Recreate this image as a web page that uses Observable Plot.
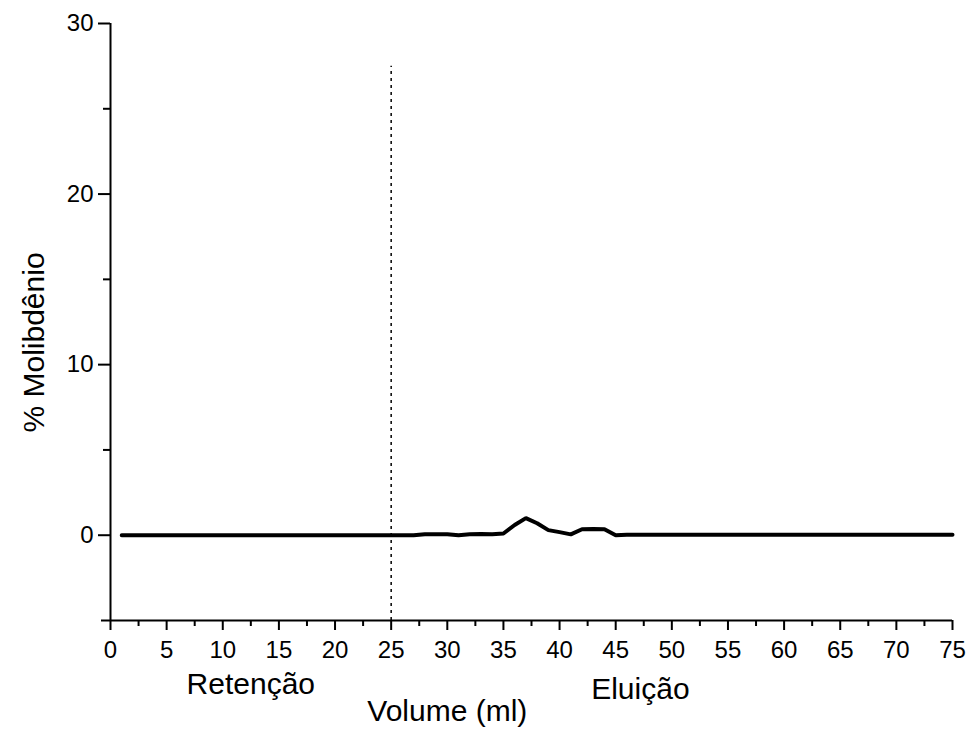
<!DOCTYPE html>
<html>
<head>
<meta charset="utf-8">
<script src="https://cdn.jsdelivr.net/npm/d3@7"></script>
<script src="https://cdn.jsdelivr.net/npm/@observablehq/plot@0.6"></script>
<style>
  html, body { margin: 0; padding: 0; background: #fff; }
</style>
</head>
<body>
<div id="chart"></div>
<script>
// Volume (ml) sampled every 1 ml
const volume = [1,2,3,4,5,6,7,8,9,10,11,12,13,14,15,16,17,18,19,20,21,22,23,24,25,26,27,28,29,30,
  31,32,33,34,35,36,37,38,39,40,41,42,43,44,45,46,47,48,49,50,51,52,53,54,55,56,57,58,59,60,
  61,62,63,64,65,66,67,68,69,70,71,72,73,74,75];
// % Molibdênio
const molibdenio = [0,0,0,0,0,0,0,0,0,0,0,0,0,0,0,0,0,0,0,0,0,0,0,0,0,0,0,0.06,0.06,0.06,
  0,0.05,0.07,0.05,0.1,0.6,1.0,0.7,0.3,0.18,0.05,0.35,0.36,0.35,0,0.02,0.03,0.03,0.03,0.03,0.03,0.03,0.03,0.03,0.03,0.03,0.03,0.03,0.03,0.03,
  0.03,0.03,0.03,0.03,0.03,0.03,0.03,0.03,0.03,0.03,0.03,0.03,0.03,0.03,0.03];

const xMajorTicks = [0,5,10,15,20,25,30,35,40,45,50,55,60,65,70,75];
const xMinorTicks = [2.5,7.5,12.5,17.5,22.5,27.5,32.5,37.5,42.5,47.5,52.5,57.5,62.5,67.5,72.5];
const yMajorTicks = [0,10,20,30];
const yMinorTicks = [5,15,25];

const boundaryVolume = [25];
const boundaryTop = 27.5;

const regionLabels = ["Retenção", "Eluição"];
const regionLabelX = [12.5, 47.2];
const regionLabelDy = [73, 78];
const xTitle = "Volume (ml)";
const xTitleX = 30.0;
const yTitle = "% Molibdênio";
const yTitleY = 11.3;

const data = volume.map((v, i) => ({volume: v, molib: molibdenio[i]}));

const font = "'Liberation Sans', Arial, sans-serif";

const chart = Plot.plot({
  width: 972,
  height: 737,
  marginLeft: 110,
  marginRight: 20,
  marginTop: 23,
  marginBottom: 117,
  style: {fontFamily: font, fontSize: "24px", color: "#000", background: "#fff", overflow: "visible"},
  x: {domain: [0, 75]},
  y: {domain: [-5, 30]},
  marks: [
    // axis lines
    Plot.ruleY([-5], {stroke: "#000", strokeWidth: 2, insetLeft: -9}),
    Plot.ruleX([0], {stroke: "#000", strokeWidth: 2}),
    // x ticks
    Plot.axisX({ticks: xMajorTicks, tickSize: 10, tickPadding: 10, strokeWidth: 2, label: null, tickFormat: d => String(d)}),
    Plot.axisX({ticks: xMinorTicks, tickSize: 6, text: null, strokeWidth: 2, label: null}),
    // y ticks
    Plot.axisY({ticks: yMajorTicks, tickSize: 12, tickPadding: 5, strokeWidth: 2, label: null, tickFormat: d => String(d)}),
    Plot.axisY({ticks: yMinorTicks, tickSize: 7, text: null, strokeWidth: 2, label: null}),
    // boundary dotted line
    Plot.ruleX(boundaryVolume, {y1: -5, y2: boundaryTop, stroke: "#000", strokeWidth: 1.5, strokeDasharray: "3,4"}),
    // data line
    Plot.line(data, {x: "volume", y: "molib", stroke: "#000", strokeWidth: 4, strokeLinejoin: "miter"}),
    // region labels
    Plot.text([0], {x: regionLabelX[0], frameAnchor: "bottom", text: [regionLabels[0]], dy: regionLabelDy[0], fontSize: 30, fill: "#000"}),
    Plot.text([0], {x: regionLabelX[1], frameAnchor: "bottom", text: [regionLabels[1]], dy: regionLabelDy[1], fontSize: 30, fill: "#000"}),
    // x title
    Plot.text([xTitle], {x: xTitleX, frameAnchor: "bottom", text: d => d, dy: 100, fontSize: 30, fill: "#000"}),
    // y title
    Plot.text([yTitle], {y: yTitleY, frameAnchor: "left", textAnchor: "middle", text: d => d, dx: -76, rotate: -90, fontSize: 30, fill: "#000"})
  ]
});

document.getElementById("chart").appendChild(chart);
</script>
</body>
</html>
